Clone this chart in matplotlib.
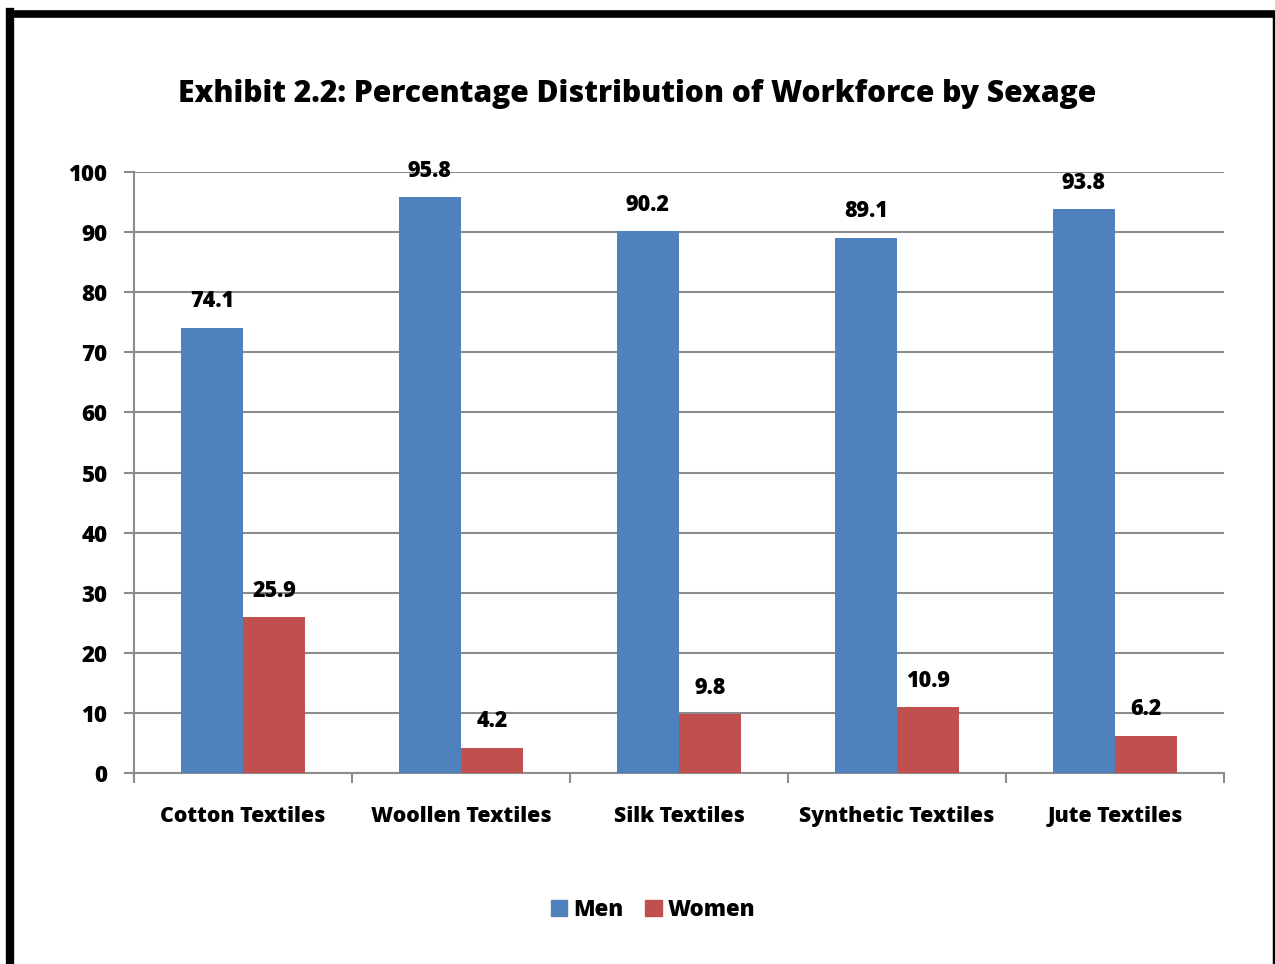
import numpy as np
import matplotlib.pyplot as plt
from matplotlib.lines import Line2D
from matplotlib.patches import Patch

categories = ["Cotton Textiles", "Woollen Textiles", "Silk Textiles",
              "Synthetic Textiles", "Jute Textiles"]
men = [74.1, 95.8, 90.2, 89.1, 93.8]
women = [25.9, 4.2, 9.8, 10.9, 6.2]
y_ticks = [0, 10, 20, 30, 40, 50, 60, 70, 80, 90, 100]

BLUE, RED, GRID = "#4F81BD", "#C0504D", "#8c8c8c"
WT = 800
plt.rcParams.update({"font.family": ["Open Sans", "DejaVu Sans"], "font.weight": WT})

W, H = 1275, 964
fig = plt.figure(figsize=(W / 100, H / 100), dpi=100)
ax = fig.add_axes([134 / W, 1 - 773 / H, (1224 - 134) / W, (773 - 172) / H])

x = np.arange(len(categories))
bw = 1 / 3.5
ax.bar(x - bw / 2, men, bw, color=BLUE, zorder=3)
ax.bar(x + bw / 2, women, bw, color=RED, zorder=3)
for xi, m, w in zip(x, men, women):
    ax.annotate(f"{m}", (xi - bw / 2, m), xytext=(0, 19), textcoords="offset points",
                ha="center", va="center", fontsize=15.5, fontweight=WT, zorder=4)
    ax.annotate(f"{w}", (xi + bw / 2, w), xytext=(0, 19), textcoords="offset points",
                ha="center", va="center", fontsize=15.5, fontweight=WT, zorder=4)

ax.set_xlim(-0.5, len(categories) - 0.5)
ax.set_ylim(0, 100)
ax.set_yticks(y_ticks)
ax.set_yticklabels([str(t) for t in y_ticks], fontsize=16, fontweight=WT)
ax.yaxis.grid(True, color=GRID, lw=1.5, zorder=0)
ax.set_xticks(x)
ax.set_xticklabels(categories, fontsize=15.3, fontweight=WT)
ax.tick_params(axis="x", length=0, pad=24)
ax.set_xticks(np.arange(-0.5, len(categories)), minor=True)
ax.tick_params(axis="x", which="minor", length=7, width=1.5, color=GRID)
ax.tick_params(axis="y", length=7, width=1.5, color=GRID, pad=12)
for s in ("top", "right"):
    ax.spines[s].set_visible(False)
for s in ("left", "bottom"):
    ax.spines[s].set_color(GRID)
    ax.spines[s].set_linewidth(1.5)

fig.text(0.5, 1 - 94 / H, "Exhibit 2.2: Percentage Distribution of Workforce by Sexage",
         ha="center", va="center", fontsize=21.6, fontweight=WT)

handles = [Patch(color=BLUE, label="Men"), Patch(color=RED, label="Women")]
fig.legend(handles=handles, loc="center", bbox_to_anchor=(653 / W, 1 - 910 / H), ncol=2,
           frameon=False, prop={"size": 16, "weight": WT}, handlelength=0.75,
           handleheight=0.75, handletextpad=0.25, columnspacing=1.0)

# outer frame
fig.add_artist(Line2D([10 / W, 10 / W], [0, 1 - 12 / H], color="black", lw=6,
                      transform=fig.transFigure, solid_capstyle="projecting"))
fig.add_artist(Line2D([10 / W, 1273 / W], [1 - 13.5 / H, 1 - 13.5 / H], color="black", lw=5.5,
                      transform=fig.transFigure))
fig.add_artist(Line2D([1273.5 / W, 1273.5 / W], [0, 1 - 13.5 / H], color="black", lw=2.5,
                      transform=fig.transFigure))

fig.savefig("out.png", dpi=100)
